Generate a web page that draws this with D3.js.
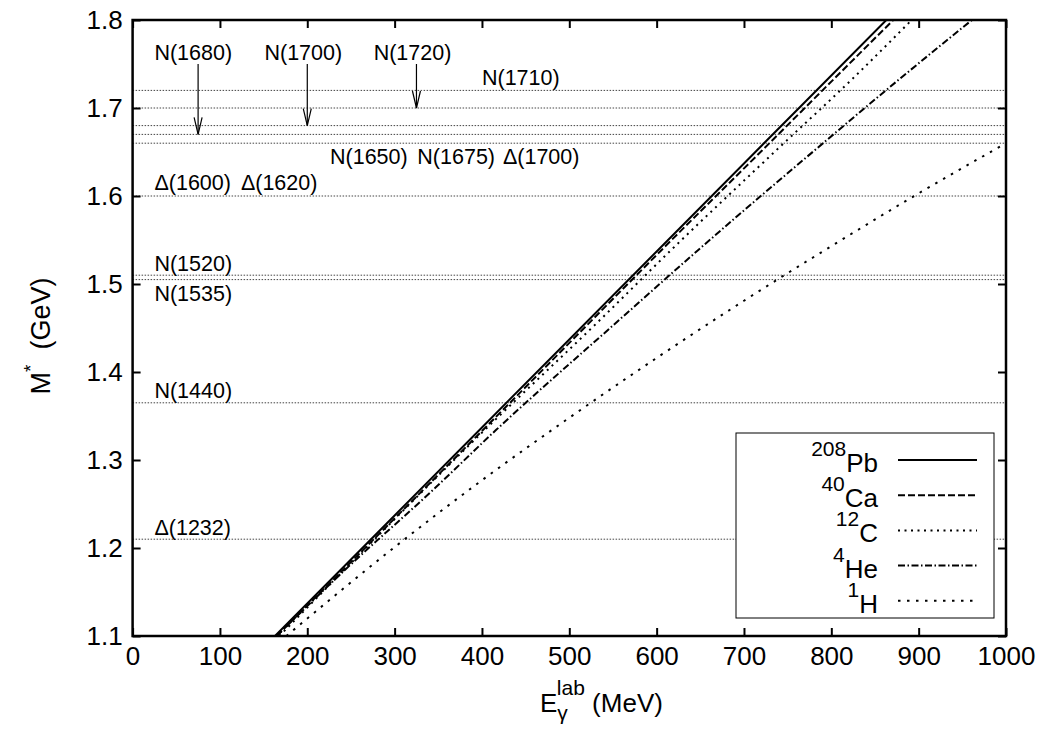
<!DOCTYPE html>
<html lang="en">
<head>
<meta charset="utf-8">
<title>M* vs photon energy</title>
<script src="https://cdn.jsdelivr.net/npm/d3@7"></script>
<style>
  body { margin: 0; background: #fff; }
  svg { font-family: "Liberation Sans", Arial, Helvetica, sans-serif; }
  .tick text { font-size: 26px; fill: #000; }
  .tick line { stroke: #000; stroke-width: 2; }
</style>
</head>
<body>
<script>
// axis ticks
var xTicks = [0, 100, 200, 300, 400, 500, 600, 700, 800, 900, 1000];
var yTicks = [1.1, 1.2, 1.3, 1.4, 1.5, 1.6, 1.7, 1.8];

// curves: photon energy (MeV) -> M* (GeV)
var pbE = [163, 300, 500, 700, 863];
var pbM = [1.100, 1.237, 1.437, 1.637, 1.800];
var caE = [165, 400, 526, 606, 721, 802, 871];
var caM = [1.100, 1.333, 1.459, 1.539, 1.652, 1.732, 1.800];
var cE = [168, 403, 535, 617, 737, 823, 892];
var cM = [1.100, 1.334, 1.459, 1.539, 1.652, 1.732, 1.800];
var heE = [165, 243, 344, 416, 557, 648, 781, 877, 961];
var heM = [1.100, 1.175, 1.266, 1.334, 1.459, 1.539, 1.652, 1.732, 1.800];
var hE = [176, 300, 400, 500, 600, 700, 800, 900, 1000];
var hM = [1.100, 1.201, 1.277, 1.348, 1.416, 1.481, 1.543, 1.603, 1.660];

var seriesSup = ["208", "40", "12", "4", "1"];
var seriesName = ["Pb", "Ca", "C", "He", "H"];

// resonance levels (GeV) drawn as dotted lines
var levels = [1.21, 1.365, 1.505, 1.51, 1.60, 1.66, 1.67, 1.68, 1.70, 1.72];

// resonance labels: text, E position, M position of baseline
var resText = ["N(1680)", "N(1700)", "N(1720)", "N(1710)",
               "N(1650)", "N(1675)", "\u0394(1700)",
               "\u0394(1600)", "\u0394(1620)",
               "N(1520)", "N(1535)", "N(1440)", "\u0394(1232)"];
var resE = [25, 151, 276, 400, 226, 326, 424, 25, 124, 25, 25, 25, 25];
var resM = [1.755, 1.755, 1.755, 1.726, 1.636, 1.636, 1.636, 1.607, 1.607,
            1.515, 1.481, 1.370, 1.215];

// arrows: E position, from M, to M
var arrowE = [75, 200, 325];
var arrowFrom = [1.75, 1.75, 1.75];
var arrowTo = [1.67, 1.68, 1.70];

var W = 1044, H = 734;
var pL = 132.6, pR = 1006, pT = 20, pB = 636;

var svg = d3.select("body").append("svg")
    .attr("width", W).attr("height", H);

var x = d3.scaleLinear().domain([0, 1000]).range([pL, pR]);
var y = d3.scaleLinear().domain([1.1, 1.8]).range([pB, pT]);

svg.append("defs").append("clipPath").attr("id", "clip")
  .append("rect").attr("x", pL).attr("y", pT)
  .attr("width", pR - pL).attr("height", pB - pT);

// resonance lines
svg.append("g").selectAll("line")
  .data(levels).enter().append("line")
  .attr("x1", x(0)).attr("x2", x(1000))
  .attr("y1", function(d) { return y(d); })
  .attr("y2", function(d) { return y(d); })
  .attr("stroke", "#444").attr("stroke-width", 1)
  .attr("stroke-dasharray", "1.5,1.5");

// resonance labels
svg.append("g").selectAll("text")
  .data(resText).enter().append("text")
  .attr("x", function(d, i) { return x(resE[i]); })
  .attr("y", function(d, i) { return y(resM[i]); })
  .attr("font-size", "21.5px")
  .text(function(d) { return d; });

// arrows
var ag = svg.append("g").attr("stroke", "#000").attr("stroke-width", 1.2).attr("fill", "none");
arrowE.forEach(function(e, i) {
  var ax = x(e), y0 = y(arrowFrom[i]), y1 = y(arrowTo[i]);
  ag.append("line").attr("x1", ax).attr("x2", ax).attr("y1", y0).attr("y2", y1);
  ag.append("path").attr("d", "M" + (ax - 4) + "," + (y1 - 17) + "L" + ax + "," + y1 + "L" + (ax + 4) + "," + (y1 - 17));
});

// data curves
var series = [
  { e: pbE, m: pbM, dash: null },
  { e: caE, m: caM, dash: "7,3" },
  { e: cE,  m: cM,  dash: "2,4.5" },
  { e: heE, m: heM, dash: "7,2.5,1.5,2.5" },
  { e: hE,  m: hM,  dash: "2.5,6.5" }
];

var line = d3.line()
  .x(function(d) { return x(d[0]); })
  .y(function(d) { return y(d[1]); })
  .curve(d3.curveMonotoneX);

var cg = svg.append("g").attr("clip-path", "url(#clip)");
series.forEach(function(s) {
  cg.append("path")
    .datum(d3.zip(s.e, s.m))
    .attr("d", line)
    .attr("fill", "none")
    .attr("stroke", "#000")
    .attr("stroke-width", 2)
    .attr("stroke-dasharray", s.dash);
});

// axes with inward ticks, mirrored on top/right
svg.append("g").attr("transform", "translate(0," + pB + ")")
  .call(d3.axisBottom(x).tickValues(xTicks).tickSize(-8).tickPadding(11).tickFormat(d3.format("d")))
  .call(function(g) { g.select(".domain").remove(); });
svg.append("g").attr("transform", "translate(0," + pT + ")")
  .call(d3.axisTop(x).tickValues(xTicks).tickSize(-8).tickFormat(""))
  .call(function(g) { g.select(".domain").remove(); });
svg.append("g").attr("transform", "translate(" + pL + ",0)")
  .call(d3.axisLeft(y).tickValues(yTicks).tickSize(-8).tickPadding(10).tickFormat(d3.format(".1f")))
  .call(function(g) { g.select(".domain").remove(); });
svg.append("g").attr("transform", "translate(" + pR + ",0)")
  .call(d3.axisRight(y).tickValues(yTicks).tickSize(-8).tickFormat(""))
  .call(function(g) { g.select(".domain").remove(); });

svg.append("rect")
  .attr("x", pL).attr("y", pT)
  .attr("width", pR - pL).attr("height", pB - pT)
  .attr("fill", "none").attr("stroke", "#000").attr("stroke-width", 2.5);

// legend
var lg = svg.append("g");
lg.append("rect").attr("x", 736).attr("y", 433).attr("width", 258).attr("height", 185)
  .attr("fill", "#fff").attr("stroke", "#000").attr("stroke-width", 1);
series.forEach(function(s, i) {
  var ry = 460 + i * 35.2;
  var t = lg.append("text").attr("x", 878).attr("y", ry + 12).attr("text-anchor", "end");
  t.append("tspan").attr("font-size", "21px").attr("dy", -16).text(seriesSup[i]);
  t.append("tspan").attr("font-size", "26px").attr("dy", 16).text(seriesName[i]);
  lg.append("line").attr("x1", 898).attr("x2", 977).attr("y1", ry).attr("y2", ry)
    .attr("stroke", "#000").attr("stroke-width", 2)
    .attr("stroke-dasharray", s.dash);
});

// axis titles
var yt = svg.append("text")
  .attr("transform", "translate(50,336) rotate(-90)")
  .attr("text-anchor", "middle").attr("font-size", "27px");
yt.append("tspan").text("M");
yt.append("tspan").attr("font-size", "19px").attr("dy", -13).text("*");
yt.append("tspan").attr("dy", 13).text("\u00a0\u00a0(GeV)");

var xt = svg.append("text")
  .attr("x", 540).attr("y", 712).attr("font-size", "26px");
xt.append("tspan").text("E");
xt.append("tspan").attr("font-size", "21px").attr("dy", 8).text("\u03b3");
xt.append("tspan").attr("font-size", "21px").attr("dx", -11).attr("dy", -25).text("lab");
xt.append("tspan").attr("dy", 17).text(" (MeV)");
</script>
</body>
</html>
